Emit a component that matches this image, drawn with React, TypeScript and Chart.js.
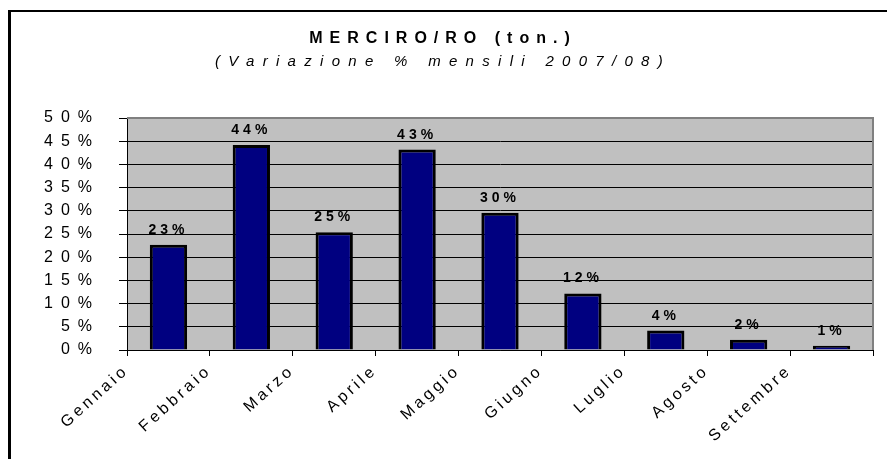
import React, { useEffect, useRef } from "react";
import { Chart, registerables } from "chart.js";

Chart.register(...registerables);

const months = ["Gennaio", "Febbraio", "Marzo", "Aprile", "Maggio", "Giugno", "Luglio", "Agosto", "Settembre"];
const variation = [22.7, 44.2, 25.4, 43.2, 29.6, 12.2, 4.2, 2.2, 0.9];
const variationLabels = ["23%", "44%", "25%", "43%", "30%", "12%", "4%", "2%", "1%"];
const titleText = "MERCIRO/RO (ton.)";
const subtitleText = "(Variazione % mensili 2007/08)";

const FONT = "'Liberation Sans', Arial, sans-serif";

const decorPlugin = {
  id: "decor",
  beforeDraw(chart: any) {
    const { ctx, chartArea } = chart;
    ctx.save();
    ctx.fillStyle = "#ffffff";
    ctx.fillRect(0, 0, chart.width, chart.height);
    ctx.fillStyle = "#C0C0C0";
    ctx.fillRect(chartArea.left, chartArea.top, chartArea.right - chartArea.left, chartArea.bottom - chartArea.top);
    ctx.restore();
    const spacing: Record<string, string> = { x: "3.5px", y: "8px" };
    Object.keys(spacing).forEach((id) => {
      const s = chart.scales[id];
      if (s && !s.__patched) {
        const orig = s.drawLabels.bind(s);
        s.drawLabels = (area: any) => {
          ctx.save();
          (ctx as any).letterSpacing = spacing[id];
          orig(area);
          ctx.restore();
        };
        s.__patched = true;
      }
    });
  },
  afterDraw(chart: any) {
    const { ctx, chartArea } = chart;
    ctx.save();
    ctx.strokeStyle = "#808080";
    ctx.lineWidth = 2;
    ctx.beginPath();
    ctx.moveTo(chartArea.left, chartArea.top);
    ctx.lineTo(chartArea.right, chartArea.top);
    ctx.lineTo(chartArea.right, chartArea.bottom);
    ctx.stroke();
    ctx.fillStyle = "#000000";
    ctx.fillRect(9, 10, chart.width - 9, 2);
    ctx.fillRect(8, 10, 3, chart.height - 10);
    ctx.textAlign = "center";
    ctx.textBaseline = "alphabetic";
    ctx.font = `bold 16px ${FONT}`;
    (ctx as any).letterSpacing = "7px";
    ctx.fillText(titleText, 443, 43);
    ctx.font = `italic 15px ${FONT}`;
    (ctx as any).letterSpacing = "8.3px";
    ctx.fillText(subtitleText, 443, 66);
    ctx.restore();
  },
  afterDatasetsDraw(chart: any) {
    const { ctx } = chart;
    const meta = chart.getDatasetMeta(0);
    ctx.save();
    ctx.font = `bold 14px ${FONT}`;
    (ctx as any).letterSpacing = "4px";
    ctx.fillStyle = "#000000";
    ctx.textAlign = "center";
    ctx.textBaseline = "alphabetic";
    meta.data.forEach((bar: any, i: number) => {
      ctx.fillText(variationLabels[i], bar.x, bar.y - 11);
    });
    ctx.restore();
  },
};

export default function App() {
  const ref = useRef<HTMLCanvasElement>(null);
  useEffect(() => {
    if (!ref.current) return;
    const chart = new Chart(ref.current, {
      type: "bar",
      data: {
        labels: months,
        datasets: [
          {
            data: variation,
            backgroundColor: "#000080",
            borderColor: "#000000",
            borderWidth: 3,
            barPercentage: 1,
            categoryPercentage: 0.45,
          },
        ],
      },
      options: {
        responsive: false,
        animation: false,
        events: [],
        layout: { padding: { top: 118, left: 0, right: 14, bottom: 0 } },
        plugins: { legend: { display: false }, tooltip: { enabled: false }, title: { display: false } },
        scales: {
          x: {
            offset: true,
            grid: {
              offset: true,
              drawOnChartArea: false,
              drawTicks: true,
              tickLength: 6,
              color: "#000000",
              lineWidth: 1,
            },
            border: { display: true, color: "#000000", width: 1 },
            ticks: {
              autoSkip: false,
              minRotation: 42,
              maxRotation: 42,
              labelOffset: -42,
              padding: 5,
              color: "#000000",
              font: { family: FONT, size: 16 },
            },
            afterFit: (s: any) => {
              s.height = 459 - 350;
            },
          },
          y: {
            min: 0,
            max: 50,
            grid: {
              drawOnChartArea: true,
              drawTicks: true,
              tickLength: 8,
              color: "#000000",
              lineWidth: 1,
            },
            border: { display: true, color: "#000000", width: 1 },
            ticks: {
              stepSize: 5,
              padding: 19,
              color: "#000000",
              font: { family: FONT, size: 16 },
              callback: (v: any) => v + "%",
            },
            afterFit: (s: any) => {
              s.width = 127;
            },
          },
        },
      },
      plugins: [decorPlugin],
    });
    chart.draw();
    return () => chart.destroy();
  }, []);
  return (
    <div style={{ position: "fixed", left: 0, top: 0, width: 887, height: 459, background: "#fff" }}>
      <canvas ref={ref} width={887} height={459} />
    </div>
  );
}
